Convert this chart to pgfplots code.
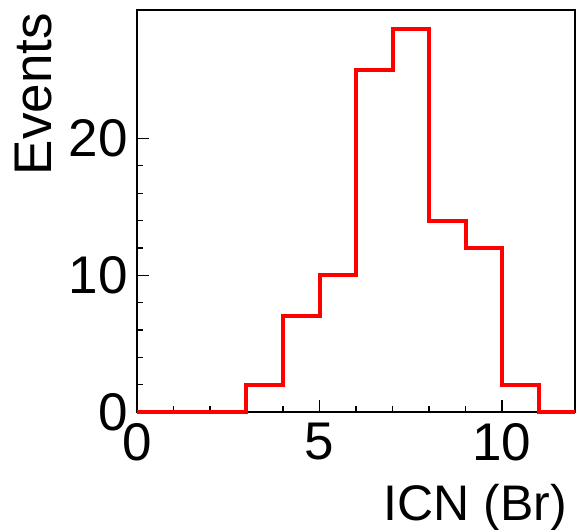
\documentclass[border=0pt]{standalone}
\usepackage{fontspec}
\setmainfont{Liberation Sans}
\usepackage{pgfplots}
\pgfplotsset{compat=1.18}
\definecolor{histred}{RGB}{255,0,0}

\begin{document}
\fontsize{53bp}{60bp}\selectfont
\begin{tikzpicture}
  \begin{axis}[
      scale only axis, width=438bp, height=402bp,
      xmin=0, xmax=12, ymin=0, ymax=29.4,
      xtick={0,5,10}, ytick={0,10,20},
      minor x tick num=4, minor y tick num=4,
      xtick pos=left, ytick pos=left, tick align=inside,
      major tick length=12bp, minor tick length=6bp,
      axis line style={line width=1.6bp},
      every tick/.style={black, line width=1.2bp},
      /pgf/number format/assume math mode=true,
      xticklabel style={inner sep=0pt, anchor=north, yshift=-11bp},
      yticklabel style={inner sep=0pt, anchor=east, xshift=-9bp},
      xlabel={ICN (Br)}, ylabel={Events},
      xlabel style={at={(rel axis cs:1,0)}, anchor=base east, inner sep=0pt,
        font=\fontsize{50bp}{56bp}\selectfont, xshift=-8bp, yshift=-108bp},
      ylabel style={at={(rel axis cs:0,1)}, anchor=base east, inner sep=0pt,
        xshift=-3bp, yshift=85bp},
      clip=false,
    ]
    \addplot[const plot mark left, histred, line width=4bp, mark=none] coordinates {
      (0,0) (1,0) (2,0) (3,2) (4,7) (5,10) (6,25) (7,28) (8,14) (9,12) (10,2) (11,0) (12,0)
    };
    \coordinate (ll) at (rel axis cs:0,0);
    \coordinate (ur) at (rel axis cs:1,1);
  \end{axis}
  \pgfresetboundingbox
  \useasboundingbox ([shift={(-137bp,-118bp)}]ll) rectangle ([shift={(3bp,10bp)}]ur);
\end{tikzpicture}
\end{document}
